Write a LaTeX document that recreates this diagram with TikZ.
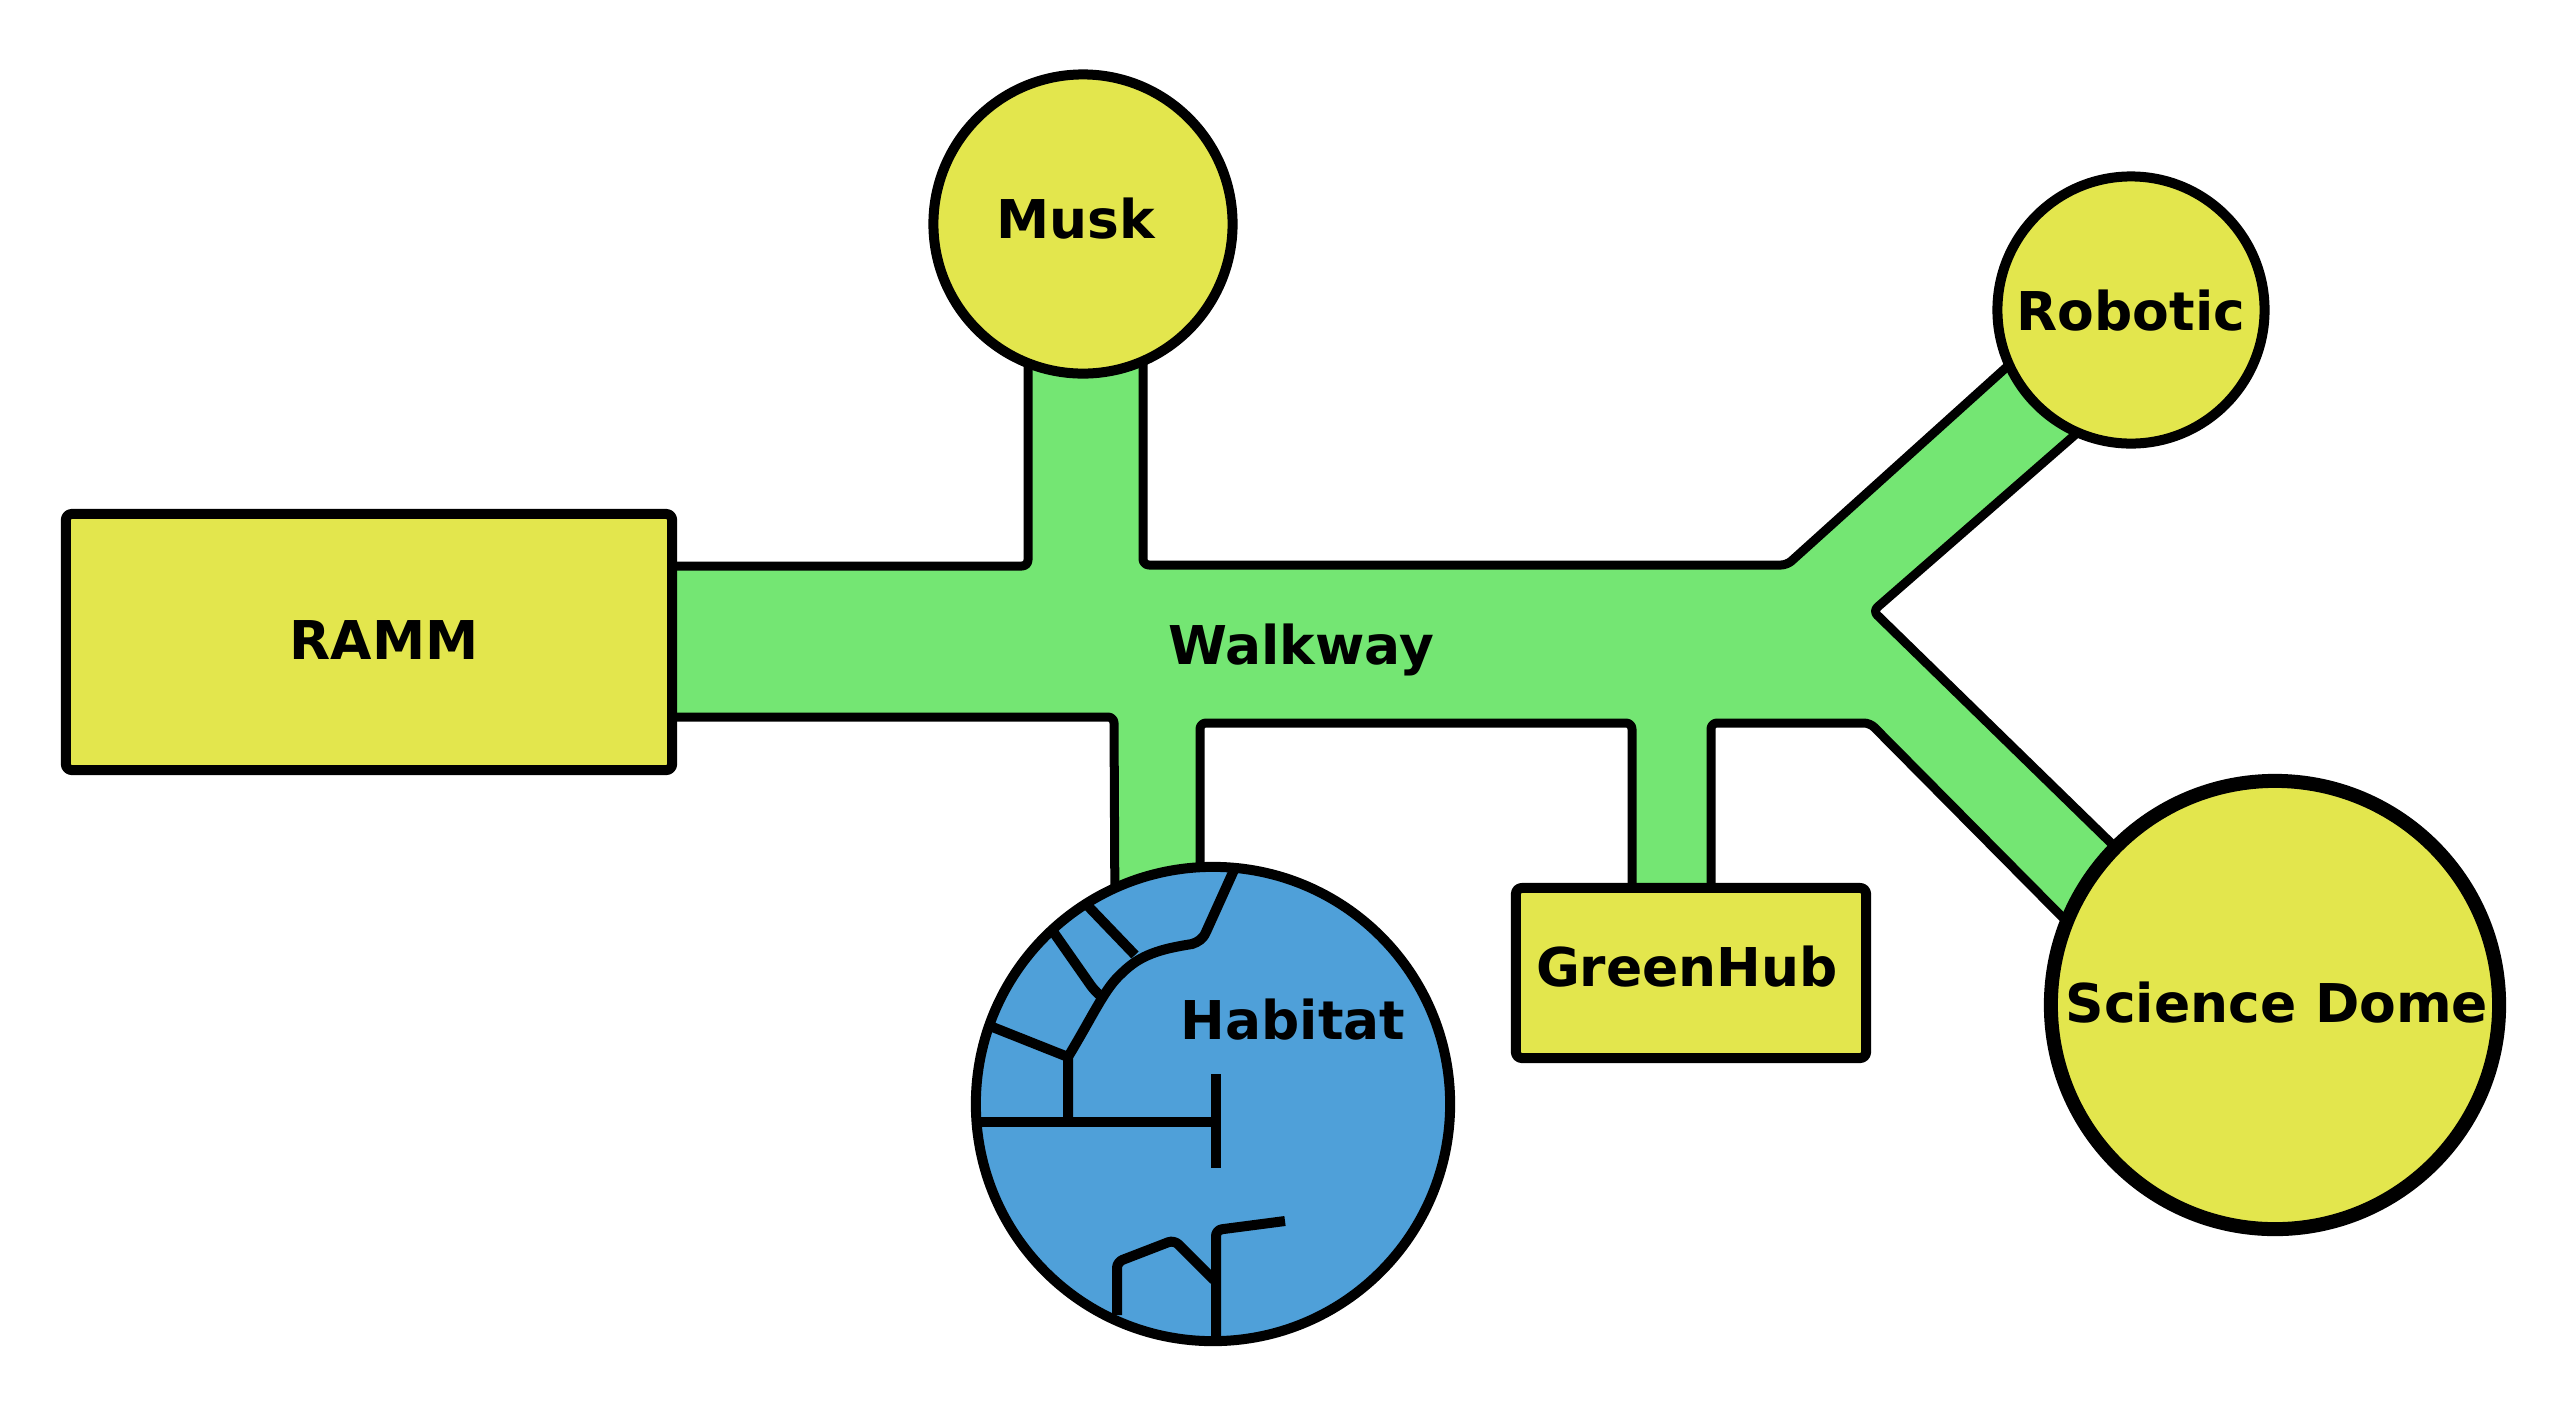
\documentclass[tikz,border=0pt]{standalone}
\usepackage{fontspec}
\setmainfont{DejaVu Sans}
\usetikzlibrary{shapes.geometric}
\definecolor{roomyellow}{HTML}{E3E64D}
\definecolor{walkgreen}{HTML}{74E673}
\definecolor{habblue}{HTML}{4FA0D9}
\tikzset{
  x=0.01cm,y=-0.01cm,
  wall/.style={draw=black,line width=0.1cm,line join=round},
  roundroom/.style={wall,circle,fill=roomyellow,inner sep=0pt,outer sep=0pt},
  rectroom/.style={wall,rectangle,fill=roomyellow,rounded corners=0.06cm,inner sep=0pt,outer sep=0pt},
  walkway/.style={wall,fill=walkgreen,rounded corners=0.06cm,line width=0.09cm},
  hab/.style={wall,circle,fill=habblue,inner sep=0pt,outer sep=0pt},
  inner wall/.style={draw=black,line width=0.1cm,rounded corners=0.06cm,line join=round},
  lab/.style={font=\fontsize{15.2}{18}\selectfont\bfseries,text=black,inner sep=0pt}
}
\begin{document}
\begin{tikzpicture}
\useasboundingbox (0,0) rectangle (2574,1417);
% walkway
\path[walkway] (600,566) -- (1028,566) -- (1028,300) -- (1143,300) -- (1143,565) -- (1787,565) -- (2040,337) -- (2100,413) -- (1873,611) -- (2150,881) -- (2080,935) -- (1870,723) -- (1711,723) -- (1711,950) -- (1632,950) -- (1632,723) -- (1200,723) -- (1200,920) -- (1115,920) -- (1114,717) -- (600,717) -- cycle;
% rooms
\node[rectroom,minimum width=6.06cm,minimum height=2.56cm] (ramm) at (369,642) {};
\node[rectroom,minimum width=3.5cm,minimum height=1.7cm] (green) at (1691,973) {};
\node[roundroom,minimum size=2.99cm] (musk) at (1083,224) {};
\node[roundroom,minimum size=2.67cm] (robotic) at (2131,310) {};
\node[roundroom,minimum size=4.48cm,line width=0.14cm] (dome) at (2275,1005) {};
\node[hab,minimum size=4.74cm] (habitat) at (1213,1104) {};
% habitat interior
\coordinate (h1) at (1234,870);
\coordinate (h2) at (1206,932);
\coordinate (h3) at (1192,944);
\coordinate (h4) at (1122,973);
\coordinate (h5) at (1068,1057);
\coordinate (h6) at (1068,1122);
\draw[draw=black,line width=0.1cm,line join=round] (h1) -- (h2) .. controls (1203,939) and (1198,942) .. (h3) .. controls (1160,949) and (1140,955) .. (h4) .. controls (1105,988) and (1095,1012) .. (h5) -- (h6);
\coordinate (b1) at (1087,905); \coordinate (b2) at (1135,955);
\draw[inner wall] (b1) -- (b2);
\coordinate (c1) at (1052,930); \coordinate (c2) at (1094,990); \coordinate (c3) at (1103,998);
\draw[inner wall] (c1) -- (c2) -- (c3);
\coordinate (d1) at (990,1026);
\draw[inner wall] (d1) -- (h5);
\coordinate (e1) at (977,1122); \coordinate (e2) at (1216,1122);
\draw[inner wall] (e1) -- (e2);
\coordinate (f1) at (1216,1074); \coordinate (f2) at (1216,1168);
\draw[inner wall] (f1) -- (f2);
\coordinate (g1) at (1117,1315); \coordinate (g2) at (1117,1262); \coordinate (g3) at (1174,1240); \coordinate (g4) at (1214,1280);
\draw[inner wall] (g1) -- (g2) -- (g3) -- (g4);
\coordinate (k1) at (1216,1340); \coordinate (k2) at (1216,1230); \coordinate (k3) at (1285,1221);
\draw[inner wall] (k1) -- (k2) -- (k3);
% labels
\node[lab] (lmusk) at (1076,219) {Musk};
\node[lab] (lramm) at (384,640) {RAMM};
\node[lab] (lwalk) at (1301,650) {Walkway};
\node[lab] (lrob) at (2131,311) {Robotic};
\node[lab] (lgreen) at (1687,967) {GreenHub};
\node[lab] (ldome) at (2277,1003) {Science Dome};
\node[lab] (lhab) at (1293,1020) {Habitat};
\end{tikzpicture}
\end{document}
